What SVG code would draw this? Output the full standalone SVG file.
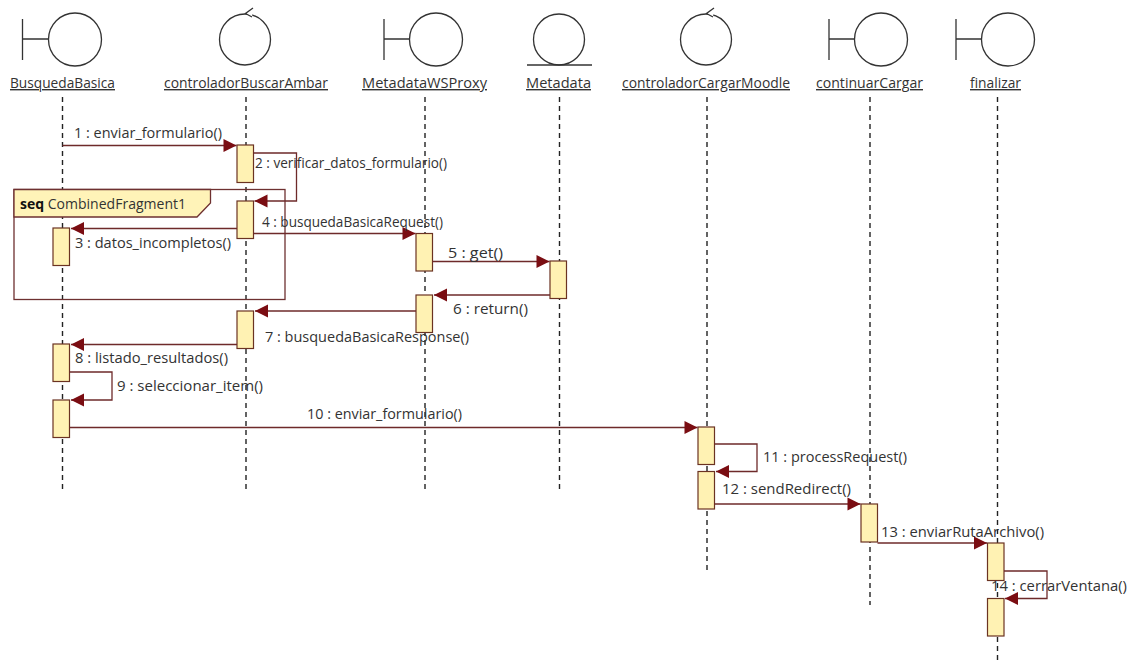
<svg xmlns="http://www.w3.org/2000/svg" width="1132" height="664" viewBox="0 0 1132 664">
<style>
text{font-family:"Open Sans","Noto Sans","DejaVu Sans",sans-serif;font-size:14px;fill:#333}
.n{text-decoration:underline}
.ic{fill:#fff;stroke:#333;stroke-width:1.3}
.ll{stroke:#222;stroke-width:1.4;stroke-dasharray:5 4;fill:none}
.a{fill:#fff2b3;stroke:#6b3322;stroke-width:1.2}
.m{stroke:#6e2a2a;stroke-width:1.3;fill:none}
.h{marker-end:url(#ah)}
.fr{fill:none;stroke:#6e3030;stroke-width:1.3}
.lb{fill:#fff3b8;stroke:#6e3030;stroke-width:1.3}
</style>
<defs>
<marker id="ah" markerUnits="userSpaceOnUse" markerWidth="14" markerHeight="14" refX="13" refY="6.500" orient="auto" overflow="visible">
<path d="M0 0L13 6.500L0 13Z" fill="#7a0d12"/>
</marker>
</defs>
<rect width="1132" height="664" fill="#fff"/>
<g id="lifelines">
<path class="ll" d="M62.500 97V490"/>
<path class="ll" d="M246 97V490"/>
<path class="ll" d="M425 97V490"/>
<path class="ll" d="M559.500 97V490"/>
<path class="ll" d="M707 97V570"/>
<path class="ll" d="M870 97V605"/>
<path class="ll" d="M997.500 97V664"/>
</g>
<g id="n1"><path class="ic" d="M22.500 19V60M22.500 39H49"/><circle class="ic" cx="75" cy="39.500" r="26.500"/><text class="n" x="10" y="88" textLength="105" lengthAdjust="spacingAndGlyphs">BusquedaBasica</text></g>
<g id="n2"><circle class="ic" cx="245" cy="39.500" r="25.500"/><path class="ic" fill="none" d="M253 8L245.500 13.500L252 17"/><text class="n" x="164" y="88" textLength="164" lengthAdjust="spacingAndGlyphs">controladorBuscarAmbar</text></g>
<g id="n3"><path class="ic" d="M384 19V60M384 39H410"/><circle class="ic" cx="436" cy="39.500" r="26.500"/><text class="n" x="362" y="88" textLength="125" lengthAdjust="spacingAndGlyphs">MetadataWSProxy</text></g>
<g id="n4"><circle class="ic" cx="559" cy="39.500" r="25.500"/><path class="ic" d="M527 65H592"/><text class="n" x="526" y="88" textLength="65" lengthAdjust="spacingAndGlyphs">Metadata</text></g>
<g id="n5"><circle class="ic" cx="706" cy="39.500" r="25.500"/><path class="ic" fill="none" d="M714 8L706.500 13.500L713 17"/><text class="n" x="622" y="88" textLength="168" lengthAdjust="spacingAndGlyphs">controladorCargarMoodle</text></g>
<g id="n6"><path class="ic" d="M829 19V60M829 39H855"/><circle class="ic" cx="881" cy="39.500" r="26.500"/><text class="n" x="816" y="88" textLength="107" lengthAdjust="spacingAndGlyphs">continuarCargar</text></g>
<g id="n7"><path class="ic" d="M956 19V60M956 39H982"/><circle class="ic" cx="1008" cy="39.500" r="26.500"/><text class="n" x="970" y="88" textLength="51" lengthAdjust="spacingAndGlyphs">finalizar</text></g>
<g id="fragment">
<rect class="fr" x="14" y="189.500" width="271" height="110"/>
<path class="lb" d="M14 189.500H210.500V203L197 217H14Z"/>
<text x="20" y="209" textLength="166" lengthAdjust="spacingAndGlyphs"><tspan font-weight="700" fill="#111">seq</tspan> CombinedFragment1</text>
</g>
<g id="activations">
<rect class="a" x="237" y="145" width="16.500" height="37.500"/>
<rect class="a" x="237" y="201" width="16.500" height="37.500"/>
<rect class="a" x="53" y="228" width="16.500" height="37.500"/>
<rect class="a" x="416" y="233.500" width="16.500" height="37.500"/>
<rect class="a" x="550" y="261" width="16.500" height="37.500"/>
<rect class="a" x="416" y="295" width="16.500" height="37.500"/>
<rect class="a" x="237" y="311" width="16.500" height="37.500"/>
<rect class="a" x="53" y="344" width="16.500" height="37.500"/>
<rect class="a" x="53" y="400" width="16.500" height="37.500"/>
<rect class="a" x="698" y="427" width="16.500" height="37.500"/>
<rect class="a" x="698" y="471.500" width="16.500" height="37.500"/>
<rect class="a" x="861" y="504" width="16.500" height="38"/>
<rect class="a" x="987.500" y="543" width="16.500" height="37.500"/>
<rect class="a" x="987.500" y="598.500" width="16.500" height="37.500"/>
</g>
<g id="connectors">
<path class="m h" d="M62.500 145.500H236.500"/>
<path class="m h" d="M253.500 153H296.500V201H254.500"/>
<path class="m h" d="M237 228.500H71"/>
<path class="m h" d="M253.500 233.500H415.500"/>
<path class="m h" d="M432.500 261.500H549.500"/>
<path class="m h" d="M550 295H434"/>
<path class="m h" d="M416 311H255"/>
<path class="m h" d="M237 344.500H71"/>
<path class="m h" d="M69.500 372H112V400H71"/>
<path class="m h" d="M69.500 427.500H697.500"/>
<path class="m h" d="M714.500 444H757V471.500H716"/>
<path class="m h" d="M714.500 504H860.500"/>
<path class="m h" d="M877.500 543H987"/>
<path class="m h" d="M1004 571H1047V598.500H1005"/>
</g>
<g id="labels">
<text x="74" y="138" textLength="148" lengthAdjust="spacingAndGlyphs">1 : enviar_formulario()</text>
<text x="255" y="168" textLength="192" lengthAdjust="spacingAndGlyphs">2 : verificar_datos_formulario()</text>
<text x="75" y="248" textLength="156" lengthAdjust="spacingAndGlyphs">3 : datos_incompletos()</text>
<text x="262" y="227" textLength="181" lengthAdjust="spacingAndGlyphs">4 : busquedaBasicaRequest()</text>
<text x="448" y="258" textLength="55" lengthAdjust="spacingAndGlyphs">5 : get()</text>
<text x="453" y="314" textLength="75" lengthAdjust="spacingAndGlyphs">6 : return()</text>
<text x="265" y="342" textLength="204" lengthAdjust="spacingAndGlyphs">7 : busquedaBasicaResponse()</text>
<text x="75" y="363" textLength="153" lengthAdjust="spacingAndGlyphs">8 : listado_resultados()</text>
<text x="117" y="391" textLength="146" lengthAdjust="spacingAndGlyphs">9 : seleccionar_item()</text>
<text x="307" y="419" textLength="155" lengthAdjust="spacingAndGlyphs">10 : enviar_formulario()</text>
<text x="763" y="462" textLength="144" lengthAdjust="spacingAndGlyphs">11 : processRequest()</text>
<text x="722" y="494" textLength="129" lengthAdjust="spacingAndGlyphs">12 : sendRedirect()</text>
<text x="881" y="537" textLength="163" lengthAdjust="spacingAndGlyphs">13 : enviarRutaArchivo()</text>
<text x="991" y="591" textLength="136" lengthAdjust="spacingAndGlyphs">14 : cerrarVentana()</text>
</g>
</svg>
